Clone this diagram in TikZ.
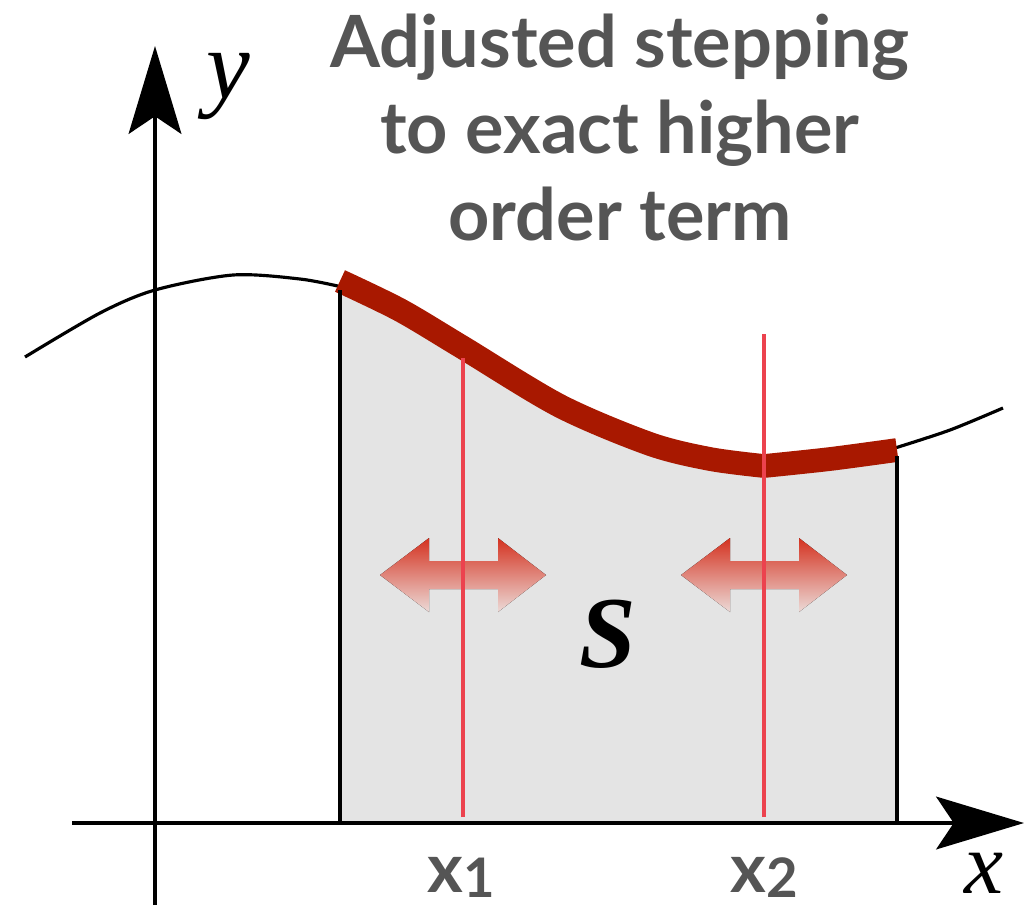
\documentclass[tikz,border=0pt]{standalone}
\usepackage{fontspec}
\setmainfont{Liberation Serif}
\newfontfamily\gillfont{Lato}
\usetikzlibrary{arrows.meta}
\definecolor{areagray}{RGB}{228,228,228}
\definecolor{bandred}{RGB}{168,24,0}
\definecolor{linered}{RGB}{236,66,78}
\definecolor{titlegray}{RGB}{85,85,85}
\definecolor{arrowtop}{RGB}{212,50,32}
\definecolor{arrowbot}{RGB}{236,218,215}
\begin{document}
\begin{tikzpicture}[x=0.02cm,y=-0.02cm,
        axis/.style={line width=2.2pt,-{Stealth[length=50pt,width=30pt,inset=10pt]}},
        shiftarrow/.style={top color=arrowtop,bottom color=arrowbot,draw=none},
        graylabel/.style={anchor=base,inner sep=0,text=titlegray,font=\gillfont\bfseries\fontsize{39}{39}\selectfont}]
        \useasboundingbox (0,0) rectangle (1026,910);
        \fill[areagray] (340,822) -- plot[smooth] coordinates {(340,283) (400,310) (462,347) (560,406) (650,444) (710,459) (764,466)}
            -- plot[smooth] coordinates {(764,466) (830,459) (897,450)} -- (897,822) -- cycle; %面積S
        \draw[line width=1.8pt] plot[smooth] coordinates {(25,357) (100,313) (155,290) (233,275) (300,279) (342,287)}; %曲線
        \draw[line width=1.8pt] plot[smooth] coordinates {(895,448) (950,430) (1003,408)};
        \draw[bandred,line width=13.5pt] plot[smooth] coordinates {(340,281) (400,310) (462,347) (560,406) (650,444) (710,459) (764,466)}
            -- plot[smooth] coordinates {(764,466) (830,459) (897,450)}; %上端
        \draw[line width=2.2pt] (340,822) -- (340,290);
        \draw[line width=2.2pt] (897,822) -- (897,456);
        \foreach \c in {463,764} {
            \fill[shiftarrow] ({\c-83},575) -- ({\c-34},538) -- ({\c-34},561) -- ({\c+35},561) -- ({\c+35},538) -- ({\c+83},575)
                -- ({\c+35},612) -- ({\c+35},589) -- ({\c-34},589) -- ({\c-34},612) -- cycle;
        } %ずらす矢印
        \draw[linered,line width=2.2pt] (463,817) -- (463,358); %x1
        \draw[linered,line width=2.2pt] (764,817) -- (764,334); %x2
        \draw[axis] (72,823) -- (1024,823); %x軸
        \draw[axis] (155,905) -- (155,46); %y軸
        \node[anchor=base,inner sep=0,font=\itshape\fontsize{56}{56}\selectfont] (ylab) at (228,98) {y};
        \node[anchor=base,inner sep=0,font=\itshape\fontsize{50}{50}\selectfont] (xlab) at (984,893) {x};
        \node[anchor=base,inner sep=0,font=\bfseries\itshape\fontsize{58}{58}\selectfont] (S) at (608,667) {S};
        \node[graylabel] (x1lab) at (461,892) {x\raisebox{-3pt}{\fontsize{31}{31}\selectfont 1}};
        \node[graylabel] (x2lab) at (764,892) {x\raisebox{-3pt}{\fontsize{31}{31}\selectfont 2}};
        \node[anchor=north,inner sep=0,align=center,text=titlegray,font=\gillfont\bfseries\fontsize{41}{49}\selectfont] (title)
            at (620,14) {Adjusted stepping\\to exact higher\\order term};
\end{tikzpicture}
\end{document}
